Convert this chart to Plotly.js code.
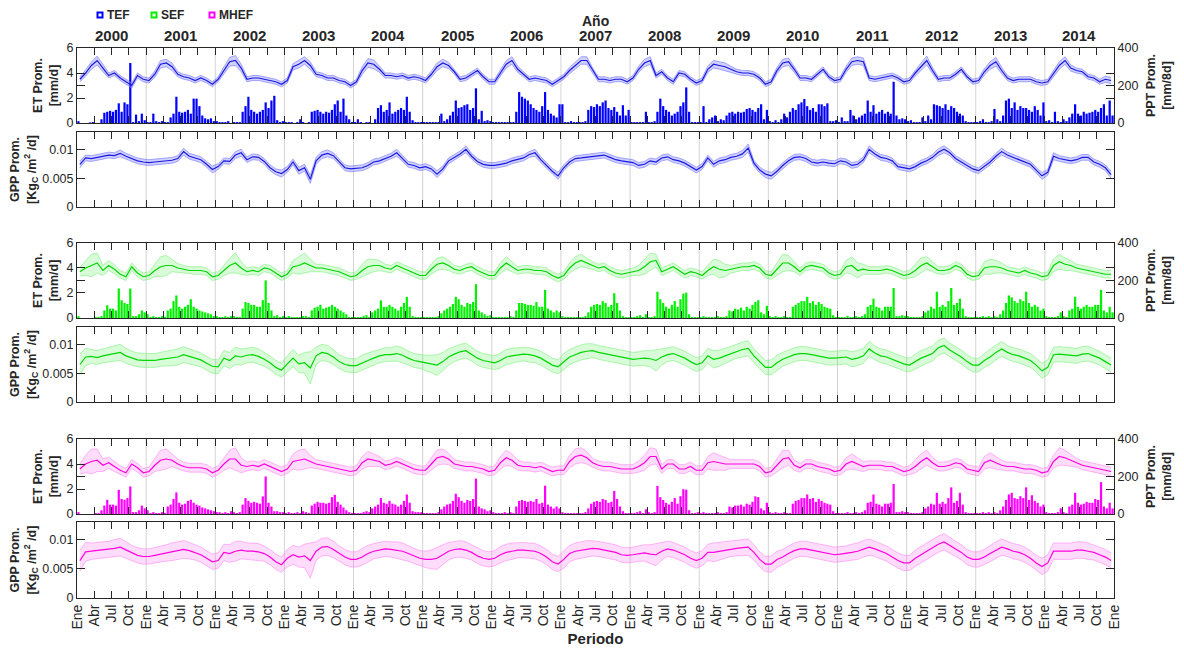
<!DOCTYPE html>
<html><head><meta charset="utf-8">
<script src="https://cdn.plot.ly/plotly-3.0.1.min.js"></script>
<style>html,body{margin:0;padding:0;background:#fff}#chart{width:1184px;height:650px}</style>
</head><body><div id="chart"></div>
<script>
const years = [2000,2001,2002,2003,2004,2005,2006,2007,2008,2009,2010,2011,2012,2013,2014];
const quarterLabels = ['Ene','Abr','Jul','Oct'];
const seriesNames = ['TEF','SEF','MHEF'];

// ET mean (mm/d), monthly
const etTEF = [
3.5,4.0,4.6,5.0,4.4,3.8,4.0,3.6,3.3,3.0,3.8,3.5,
3.4,3.9,4.7,4.8,4.5,3.9,3.7,3.6,3.4,3.6,3.4,3.1,
3.5,4.2,4.9,5.0,4.4,3.5,3.6,3.6,3.5,3.4,3.3,3.1,
3.4,4.5,4.7,5.0,4.6,3.9,3.8,3.6,3.6,3.4,3.3,3.0,
3.3,4.2,4.8,4.7,4.3,3.8,3.8,3.7,3.8,3.6,3.7,3.6,
3.4,3.9,4.5,4.8,4.6,4.1,3.5,3.6,3.9,4.2,3.7,3.3,
3.3,4.0,4.7,5.0,4.3,3.9,3.5,3.6,3.5,3.4,3.1,3.4,
3.7,4.2,4.6,5.0,5.0,4.2,3.5,3.5,3.4,3.5,3.5,3.3,
3.6,4.3,4.8,5.0,3.8,4.1,3.6,3.3,4.0,3.9,3.5,3.2,
3.4,4.3,4.7,4.6,4.5,4.3,4.1,4.0,4.0,3.9,3.6,3.1,
3.3,4.2,4.8,4.9,4.3,3.6,3.6,3.5,3.9,4.3,3.7,3.4,
3.5,4.3,4.9,5.0,4.9,3.6,3.5,3.6,3.7,3.8,3.6,3.3,
3.4,4.0,4.5,5.0,4.2,3.5,3.6,3.6,3.9,4.3,3.7,3.3,
3.4,4.1,4.6,4.9,4.2,3.6,3.4,3.5,3.5,3.5,3.3,3.2,
3.3,4.0,4.6,5.0,4.4,4.2,4.1,3.7,3.6,3.3,3.5,3.4];
const etTEFsd = [
.2,.25,.3,.35,.3,.2,.2,.2,.2,.2,.2,.2,
.2,.25,.3,.3,.3,.2,.2,.2,.2,.2,.2,.2,
.2,.3,.35,.4,.3,.2,.2,.2,.2,.2,.2,.2,
.2,.25,.3,.3,.3,.2,.2,.2,.2,.2,.2,.2,
.2,.3,.35,.35,.25,.2,.2,.2,.2,.2,.2,.2,
.2,.25,.3,.3,.25,.2,.2,.2,.2,.2,.2,.2,
.2,.25,.3,.3,.25,.2,.2,.2,.2,.2,.2,.2,
.2,.25,.3,.3,.3,.2,.2,.2,.2,.2,.2,.2,
.2,.25,.3,.3,.2,.2,.2,.2,.2,.2,.2,.2,
.2,.25,.3,.3,.3,.25,.2,.2,.2,.2,.2,.2,
.2,.25,.3,.3,.25,.2,.2,.2,.2,.2,.2,.2,
.2,.25,.3,.3,.3,.2,.2,.2,.2,.2,.2,.2,
.2,.25,.3,.35,.25,.2,.2,.2,.2,.2,.2,.2,
.2,.25,.3,.35,.25,.2,.2,.2,.2,.2,.2,.2,
.2,.25,.3,.3,.25,.2,.2,.2,.2,.2,.25,.25];
const etSEF = [
3.7,4.0,4.2,4.4,3.8,4.2,3.9,3.5,3.3,4.1,3.6,3.3,
3.4,3.8,4.1,4.2,4.2,4.0,3.9,3.8,3.8,3.8,3.7,3.3,
3.4,3.8,4.2,4.4,4.0,3.7,3.8,3.7,4.0,3.9,3.6,3.3,
3.5,4.1,4.2,4.4,4.2,4.0,4.0,3.9,3.8,3.7,3.5,3.3,
3.4,3.8,4.1,4.2,4.2,4.0,3.9,4.2,4.0,3.8,3.6,3.4,
3.4,3.9,4.3,4.4,4.2,3.9,3.8,4.0,4.1,3.8,3.6,3.4,
3.4,4.0,4.4,4.1,3.8,3.9,3.9,3.8,3.8,3.7,3.4,3.2,
3.4,4.0,4.4,4.6,4.4,4.2,4.0,4.1,3.8,3.6,3.5,3.6,
3.7,3.8,4.1,4.5,4.6,3.7,3.9,4.1,3.8,3.5,3.7,3.6,
3.4,3.8,4.1,3.9,3.8,3.9,4.0,4.1,4.1,4.2,4.0,3.5,
3.4,3.9,4.4,4.4,4.1,3.7,4.1,4.2,4.1,4.0,3.6,3.4,
3.5,4.1,4.2,3.8,3.9,3.8,3.8,3.8,3.9,3.8,3.6,3.4,
3.5,3.8,4.2,4.4,4.1,3.8,3.8,3.9,4.2,4.0,3.5,3.3,
3.4,4.0,4.1,4.1,4.0,3.8,3.7,3.6,3.8,3.6,3.5,3.3,
3.4,4.2,4.5,4.3,4.2,4.0,3.9,3.8,3.7,3.6,3.5,3.5];
const etSEFsd = [
.35,.6,.9,.8,.4,.4,.35,.3,.3,.3,.3,.3,
.3,.5,.8,.8,.5,.35,.3,.3,.3,.3,.3,.3,
.3,.4,.6,.8,.5,.3,.3,.3,.3,.3,.3,.3,
.3,.5,.7,.8,.5,.3,.3,.3,.3,.3,.3,.3,
.3,.5,.6,.5,.4,.3,.3,.3,.3,.3,.3,.3,
.3,.4,.5,.5,.4,.3,.3,.3,.3,.3,.3,.3,
.3,.4,.5,.4,.3,.3,.3,.3,.3,.3,.3,.3,
.3,.4,.5,.5,.4,.3,.3,.3,.3,.3,.3,.3,
.3,.4,.6,.7,.5,.3,.3,.3,.3,.3,.3,.3,
.3,.4,.6,.7,.5,.3,.3,.3,.3,.3,.3,.3,
.3,.5,.7,.6,.4,.3,.3,.3,.3,.3,.3,.3,
.3,.5,.7,.6,.4,.3,.3,.3,.3,.3,.3,.3,
.3,.5,.6,.5,.4,.3,.3,.3,.3,.3,.3,.3,
.3,.5,.6,.5,.4,.3,.3,.3,.3,.3,.3,.3,
.3,.5,.6,.5,.4,.3,.3,.3,.3,.3,.3,.3];
const etMHEF = [
3.6,4.0,4.2,4.3,3.9,4.1,3.8,3.5,3.3,4.0,3.7,3.3,
3.4,3.9,4.3,4.4,4.3,4.0,3.8,3.7,3.7,3.7,3.6,3.3,
3.5,4.0,4.4,4.4,3.9,3.8,3.9,3.8,4.0,3.8,3.6,3.4,
3.6,4.2,4.3,4.4,4.2,4.0,3.9,3.8,3.7,3.6,3.5,3.4,
3.5,4.1,4.4,4.3,4.2,3.9,4.0,4.2,4.0,3.8,3.6,3.5,
3.5,4.0,4.5,4.6,4.4,4.0,3.9,3.8,3.8,3.7,3.6,3.4,
3.5,4.1,4.5,4.3,3.9,3.8,3.8,3.7,3.8,3.6,3.4,3.5,
3.5,4.2,4.6,4.7,4.5,4.1,3.9,3.8,3.8,3.7,3.6,3.6,
3.6,3.8,4.1,4.6,4.6,3.6,4.0,4.0,3.6,3.6,3.8,3.5,
3.5,4.1,4.2,4.1,4.0,4.0,4.0,4.0,4.0,4.0,3.8,3.3,
3.4,3.9,4.4,4.5,3.9,3.7,4.0,4.0,3.8,3.7,3.6,3.4,
3.5,4.0,4.2,4.0,3.8,3.9,3.9,3.9,3.8,3.8,3.6,3.4,
3.5,3.8,4.2,4.5,4.1,3.8,3.8,3.9,4.1,4.0,3.6,3.5,
3.4,4.1,4.3,4.1,3.9,3.8,3.8,3.7,3.6,3.6,3.5,3.3,
3.4,4.2,4.6,4.5,4.3,4.1,3.9,3.8,3.7,3.6,3.5,3.4];
const etMHEFsd = [
.4,.7,1.0,.9,.5,.45,.4,.35,.35,.35,.35,.35,
.35,.5,.8,.8,.5,.4,.35,.35,.35,.35,.35,.35,
.35,.5,.7,.9,.6,.35,.35,.35,.35,.35,.35,.35,
.35,.6,.8,.8,.5,.35,.35,.35,.35,.35,.35,.35,
.35,.5,.6,.5,.4,.35,.35,.35,.35,.35,.35,.35,
.35,.5,.6,.6,.45,.35,.35,.35,.35,.35,.35,.35,
.35,.5,.6,.5,.4,.35,.35,.35,.35,.35,.35,.35,
.35,.5,.6,.6,.5,.35,.35,.35,.35,.35,.35,.35,
.35,.45,.6,.7,.6,.35,.35,.35,.35,.35,.35,.35,
.35,.5,.7,.6,.5,.35,.35,.35,.35,.35,.35,.35,
.35,.5,.7,.6,.4,.35,.35,.35,.35,.35,.35,.35,
.35,.5,.6,.5,.4,.35,.35,.35,.35,.35,.35,.35,
.35,.5,.6,.6,.45,.35,.35,.35,.35,.35,.35,.35,
.35,.5,.6,.5,.4,.35,.35,.35,.35,.35,.35,.35,
.35,.5,.7,.6,.45,.35,.35,.35,.35,.35,.35,.35];

// GPP mean (KgC/m2/d), monthly
const gppTEF = [
.0074,.0085,.0084,.0086,.0088,.0090,.0089,.0093,.0088,.0084,.0080,.0078,
.0077,.0078,.0079,.0080,.0081,.0084,.0096,.0088,.0085,.0082,.0074,.0065,
.0070,.0080,.0079,.0090,.0094,.0082,.0087,.0086,.0079,.0068,.0061,.0058,
.0065,.0078,.0063,.0068,.0048,.0080,.0090,.0093,.0089,.0078,.0068,.0066,
.0067,.0068,.0072,.0078,.0080,.0084,.0088,.0094,.0084,.0074,.0072,.0068,
.0070,.0066,.0057,.0066,.0080,.0086,.0092,.0100,.0088,.0079,.0074,.0072,
.0072,.0074,.0076,.0080,.0083,.0085,.0091,.0094,.0082,.0072,.0062,.0054,
.0068,.0078,.0084,.0085,.0086,.0088,.0088,.0090,.0086,.0082,.0080,.0078,
.0077,.0072,.0074,.0080,.0078,.0085,.0087,.0082,.0080,.0076,.0070,.0064,
.0070,.0085,.0074,.0080,.0082,.0086,.0088,.0092,.0102,.0076,.0064,.0057,
.0054,.0062,.0072,.0080,.0086,.0087,.0084,.0078,.0076,.0078,.0076,.0075,
.0080,.0078,.0072,.0074,.0082,.0100,.0092,.0086,.0084,.0080,.0070,.0068,
.0066,.0070,.0076,.0080,.0086,.0095,.0100,.0094,.0084,.0078,.0072,.0066,
.0063,.0070,.0078,.0088,.0096,.0090,.0086,.0082,.0078,.0074,.0064,.0054,
.0060,.0088,.0084,.0082,.0080,.0082,.0086,.0086,.0078,.0074,.0068,.0056];
const gppTEFsd = [
.0006,.0005,.0005,.0005,.0005,.0005,.0005,.0006,.0005,.0005,.0005,.0005,
.0005,.0005,.0005,.0005,.0005,.0005,.0006,.0005,.0005,.0005,.0005,.0006,
.0005,.0005,.0005,.0006,.0006,.0005,.0005,.0005,.0005,.0005,.0005,.0006,
.0005,.0005,.0006,.0006,.0007,.0006,.0006,.0006,.0005,.0005,.0005,.0005,
.0005,.0005,.0005,.0005,.0005,.0005,.0005,.0006,.0005,.0005,.0005,.0005,
.0005,.0005,.0006,.0005,.0005,.0005,.0005,.0006,.0005,.0005,.0005,.0005,
.0005,.0005,.0005,.0005,.0005,.0005,.0005,.0006,.0005,.0005,.0005,.0006,
.0005,.0005,.0005,.0005,.0005,.0005,.0005,.0005,.0005,.0005,.0005,.0005,
.0005,.0005,.0005,.0005,.0005,.0005,.0005,.0005,.0005,.0005,.0005,.0005,
.0005,.0005,.0005,.0005,.0005,.0005,.0005,.0006,.0007,.0005,.0005,.0006,
.0006,.0005,.0005,.0005,.0005,.0005,.0005,.0005,.0005,.0005,.0005,.0005,
.0005,.0005,.0005,.0005,.0005,.0006,.0005,.0005,.0005,.0005,.0005,.0005,
.0005,.0005,.0005,.0005,.0005,.0006,.0006,.0005,.0005,.0005,.0005,.0005,
.0005,.0005,.0005,.0005,.0006,.0005,.0005,.0005,.0005,.0005,.0005,.0006,
.0005,.0006,.0005,.0005,.0005,.0005,.0005,.0005,.0005,.0005,.0005,.0006];
const gppSEF = [
.0065,.0078,.0079,.0077,.0080,.0082,.0084,.0086,.0080,.0076,.0073,.0072,
.0072,.0072,.0074,.0075,.0077,.0078,.0082,.0079,.0076,.0073,.0067,.0062,
.0061,.0076,.0072,.0080,.0078,.0081,.0082,.0079,.0074,.0068,.0060,.0055,
.0066,.0076,.0066,.0068,.0059,.0080,.0086,.0084,.0078,.0070,.0065,.0063,
.0063,.0068,.0072,.0076,.0080,.0082,.0082,.0084,.0081,.0076,.0072,.0070,
.0068,.0066,.0064,.0070,.0078,.0083,.0087,.0089,.0083,.0076,.0072,.0070,
.0068,.0072,.0078,.0080,.0082,.0083,.0082,.0080,.0076,.0070,.0064,.0061,
.0070,.0078,.0082,.0086,.0088,.0089,.0086,.0084,.0082,.0080,.0078,.0076,
.0074,.0075,.0076,.0075,.0072,.0078,.0082,.0084,.0080,.0076,.0070,.0065,
.0068,.0080,.0074,.0076,.0080,.0084,.0088,.0091,.0093,.0080,.0070,.0060,
.0060,.0068,.0074,.0078,.0082,.0084,.0084,.0082,.0080,.0078,.0076,.0076,
.0077,.0078,.0074,.0076,.0080,.0092,.0085,.0080,.0078,.0074,.0070,.0066,
.0064,.0070,.0076,.0080,.0084,.0094,.0098,.0090,.0084,.0078,.0070,.0064,
.0064,.0072,.0078,.0086,.0092,.0086,.0082,.0080,.0076,.0072,.0064,.0054,
.0060,.0082,.0083,.0082,.0080,.0080,.0083,.0084,.0080,.0076,.0070,.0064];
const gppSEFsd = [
.0018,.0015,.0012,.0012,.0012,.0013,.0014,.0014,.0013,.0012,.0012,.0012,
.0012,.0012,.0012,.0013,.0014,.0014,.0014,.0013,.0012,.0012,.0012,.0012,
.0012,.0013,.0014,.0015,.0014,.0013,.0013,.0013,.0012,.0012,.0012,.0012,
.0014,.0015,.0015,.0018,.0028,.0015,.0014,.0014,.0013,.0012,.0012,.0012,
.0012,.0013,.0013,.0012,.0012,.0012,.0012,.0013,.0013,.0012,.0012,.0012,
.0013,.0015,.0018,.0016,.0014,.0013,.0013,.0013,.0012,.0012,.0012,.0012,
.0012,.0013,.0013,.0013,.0012,.0012,.0012,.0012,.0012,.0012,.0012,.0012,
.0014,.0013,.0013,.0013,.0013,.0012,.0012,.0012,.0012,.0012,.0012,.0012,
.0012,.0012,.0013,.0014,.0018,.0014,.0012,.0012,.0012,.0012,.0012,.0012,
.0012,.0013,.0015,.0014,.0013,.0012,.0012,.0013,.0013,.0012,.0012,.0012,
.0013,.0013,.0012,.0012,.0012,.0012,.0012,.0012,.0012,.0012,.0012,.0012,
.0012,.0012,.0013,.0013,.0013,.0013,.0012,.0012,.0012,.0012,.0012,.0012,
.0012,.0013,.0013,.0013,.0013,.0013,.0013,.0012,.0012,.0012,.0012,.0012,
.0012,.0012,.0013,.0013,.0013,.0012,.0012,.0012,.0012,.0012,.0012,.0013,
.0013,.0013,.0013,.0013,.0013,.0013,.0013,.0013,.0012,.0012,.0012,.0012];
const gppMHEF = [
.0064,.0079,.0080,.0081,.0082,.0083,.0085,.0087,.0082,.0077,.0073,.0071,
.0071,.0073,.0075,.0077,.0079,.0081,.0083,.0081,.0078,.0074,.0068,.0062,
.0064,.0078,.0076,.0080,.0082,.0080,.0080,.0079,.0076,.0070,.0062,.0057,
.0068,.0074,.0070,.0072,.0064,.0080,.0087,.0088,.0083,.0076,.0070,.0066,
.0066,.0070,.0076,.0080,.0082,.0084,.0083,.0082,.0080,.0076,.0072,.0068,
.0066,.0066,.0068,.0074,.0080,.0083,.0084,.0082,.0078,.0072,.0068,.0066,
.0068,.0074,.0078,.0080,.0082,.0082,.0081,.0080,.0076,.0070,.0062,.0058,
.0066,.0076,.0080,.0082,.0084,.0085,.0084,.0082,.0080,.0078,.0074,.0073,
.0074,.0076,.0077,.0075,.0074,.0080,.0084,.0082,.0078,.0074,.0068,.0064,
.0068,.0078,.0078,.0080,.0082,.0084,.0085,.0086,.0087,.0078,.0066,.0058,
.0058,.0066,.0070,.0076,.0081,.0084,.0084,.0082,.0080,.0078,.0076,.0074,
.0075,.0076,.0078,.0080,.0084,.0087,.0084,.0080,.0076,.0070,.0064,.0060,
.0060,.0068,.0074,.0080,.0086,.0092,.0096,.0090,.0084,.0078,.0070,.0066,
.0066,.0070,.0076,.0082,.0087,.0084,.0080,.0078,.0074,.0068,.0060,.0054,
.0060,.0080,.0080,.0080,.0080,.0082,.0082,.0080,.0078,.0074,.0070,.0064];
const gppMHEFsd = [
.0018,.0016,.0014,.0014,.0014,.0014,.0015,.0015,.0014,.0013,.0013,.0013,
.0013,.0013,.0013,.0014,.0015,.0015,.0015,.0014,.0013,.0013,.0013,.0013,
.0013,.0014,.0015,.0017,.0015,.0014,.0014,.0014,.0013,.0013,.0013,.0013,
.0015,.0016,.0017,.0020,.0030,.0016,.0015,.0015,.0014,.0013,.0013,.0013,
.0013,.0014,.0014,.0013,.0013,.0013,.0013,.0014,.0014,.0013,.0013,.0013,
.0014,.0016,.0019,.0017,.0015,.0014,.0014,.0014,.0013,.0013,.0013,.0013,
.0013,.0014,.0014,.0014,.0013,.0013,.0013,.0013,.0013,.0013,.0013,.0013,
.0015,.0014,.0014,.0014,.0014,.0013,.0013,.0013,.0013,.0013,.0013,.0013,
.0013,.0013,.0014,.0016,.0019,.0015,.0013,.0013,.0013,.0013,.0013,.0013,
.0013,.0014,.0016,.0015,.0014,.0013,.0013,.0014,.0014,.0013,.0013,.0013,
.0014,.0014,.0013,.0013,.0013,.0013,.0013,.0013,.0013,.0013,.0013,.0013,
.0013,.0013,.0014,.0014,.0014,.0014,.0013,.0013,.0013,.0013,.0013,.0013,
.0013,.0014,.0014,.0014,.0014,.0014,.0014,.0013,.0013,.0013,.0013,.0013,
.0013,.0013,.0014,.0014,.0014,.0013,.0013,.0013,.0013,.0013,.0013,.0014,
.0014,.0014,.0014,.0014,.0014,.0014,.0014,.0014,.0013,.0013,.0013,.0013];

// PPT (mm/8d), twice-monthly
const pptTEF = [
10,0,0,0,3,5,0,0,20,55,60,65,60,70,105,60,110,100,320,5,45,10,50,15,
5,5,50,10,5,10,5,5,30,50,140,60,55,60,70,50,130,130,90,40,25,20,25,10,
10,5,5,5,10,0,5,5,5,60,90,140,70,60,50,60,70,110,80,120,145,15,5,10,
5,5,5,0,5,20,5,0,5,60,65,70,60,50,60,55,70,100,120,60,130,40,20,5,
5,20,5,0,5,5,0,20,80,95,60,70,110,50,60,70,80,70,140,60,15,5,5,5,
5,5,5,5,5,5,50,10,20,40,60,120,80,85,95,100,70,80,185,20,65,10,15,10,
5,5,5,5,5,5,5,5,60,165,140,130,120,100,80,70,60,90,165,70,50,40,30,100,
100,5,5,10,5,5,5,5,10,70,90,85,100,90,110,120,80,70,85,60,40,95,40,70,
5,5,5,5,5,60,5,5,10,60,130,90,70,60,40,50,60,90,110,190,60,5,5,5,
5,90,5,20,30,40,10,20,15,40,55,60,50,60,55,60,75,80,70,60,80,100,20,70,
10,5,15,5,20,50,30,60,80,70,100,110,128,90,70,80,60,100,100,90,105,10,10,15,
5,30,10,10,70,40,20,30,40,50,120,60,95,50,60,70,50,60,50,220,40,20,25,20,
10,15,5,5,5,30,10,40,20,100,95,90,80,100,70,90,80,60,50,40,10,5,5,5,
5,10,20,5,5,10,75,20,10,40,120,130,80,110,70,90,80,80,70,60,90,70,40,110,
10,15,5,60,10,5,20,10,30,50,100,50,40,60,50,55,60,70,60,80,100,40,120,40];
const pptSEF = [
10,0,0,0,0,0,5,5,10,40,68,50,50,40,157,95,80,75,157,10,10,20,40,30,
20,5,10,5,5,10,5,40,50,90,120,60,50,60,70,100,60,50,40,35,30,25,20,10,
10,5,5,10,5,10,10,5,5,50,85,80,70,70,60,60,95,200,80,40,10,15,5,10,
5,10,5,5,5,5,10,10,5,40,55,60,70,50,55,60,70,60,50,40,30,20,5,5,
5,5,5,10,15,5,30,40,50,94,60,60,70,60,50,40,60,80,113,60,10,5,5,5,
5,5,5,5,5,10,25,40,50,60,75,113,100,70,60,80,75,85,180,40,30,20,10,15,
5,5,5,5,5,5,10,5,40,80,80,75,70,70,65,85,60,60,150,50,40,30,40,30,
10,5,5,5,5,5,5,5,10,30,60,70,75,70,90,80,60,70,132,80,40,10,5,5,
5,5,10,15,5,20,5,5,10,140,100,80,60,50,70,90,60,100,130,135,20,5,5,5,
5,10,5,5,5,5,10,5,5,10,40,35,50,45,55,40,60,50,70,85,95,30,20,65,
10,5,10,5,5,10,5,5,60,70,80,90,90,113,80,90,70,85,75,60,55,50,15,5,
5,5,5,10,5,5,10,5,10,20,60,70,103,60,55,40,60,60,60,160,10,10,15,10,
10,5,5,5,5,10,30,40,60,50,140,60,70,60,90,160,70,80,103,50,10,5,5,5,
5,5,10,5,10,5,10,5,20,40,80,120,110,90,80,100,90,140,80,60,70,60,40,50,
10,5,5,5,10,30,10,5,40,50,113,60,50,60,70,60,60,70,70,150,40,30,60,30];
const pptMHEF = [
10,0,0,0,0,0,5,5,20,45,76,50,50,45,129,80,76,85,147,10,10,20,45,30,
20,5,10,5,5,10,5,40,50,80,115,60,50,55,70,76,60,50,45,35,30,25,20,15,
10,10,5,10,5,15,10,5,10,50,85,70,60,65,60,55,94,200,60,40,15,15,10,10,
5,10,5,5,10,5,15,10,5,45,55,65,60,60,55,60,90,102,65,50,35,20,10,5,
5,5,5,10,15,10,30,40,50,85,60,55,70,55,50,40,50,70,104,60,15,10,10,10,
5,5,5,5,5,10,25,40,50,55,70,108,90,70,60,75,70,80,189,40,30,25,15,20,
10,5,5,5,10,5,10,5,40,70,75,70,65,70,65,80,55,60,151,50,40,30,40,30,
10,5,5,5,5,5,5,5,10,30,55,65,70,65,80,75,60,65,123,80,40,15,5,5,
5,5,10,15,5,25,10,5,10,150,90,75,60,50,65,85,55,95,132,130,20,5,5,10,
5,10,5,5,5,5,10,5,5,10,40,35,45,45,50,40,55,50,65,94,90,30,20,60,
10,5,10,5,5,10,5,5,55,70,75,85,85,104,80,85,65,80,70,60,55,50,15,5,
5,5,5,10,5,5,10,5,10,20,60,65,104,55,50,40,55,55,60,160,10,10,15,10,
10,5,5,5,5,10,30,40,55,50,113,55,65,55,85,142,60,70,113,50,10,5,5,5,
5,5,10,5,10,5,10,5,20,40,75,104,113,85,80,95,85,142,75,100,70,60,40,50,
10,5,5,5,10,30,10,5,40,50,113,60,50,55,65,60,60,80,75,170,40,30,60,30];

// ---------- build ----------
const xMonth = [], xHalf = [];
years.forEach(y => {
  for (let m = 0; m < 12; m++) xMonth.push(y + (m + 0.5) / 12);
  for (let h = 0; h < 24; h++) xHalf.push(y + (h + 0.5) / 24);
});
const tickvals = [], ticktext = [];
years.forEach(y => quarterLabels.forEach((q, i) => { tickvals.push(y + i * 0.25); ticktext.push(q); }));
tickvals.push(years[years.length - 1] + 1); ticktext.push(quarterLabels[0]);

const styles = [
  {line: 'rgb(25,25,225)', edge: 'rgba(120,120,255,0.9)', fill: 'rgba(120,120,255,0.35)', bar: '#0000ff'},
  {line: 'rgb(0,215,0)', edge: 'rgba(130,240,130,0.9)', fill: 'rgba(60,235,60,0.2)', bar: '#00f000'},
  {line: 'rgb(255,0,225)', edge: 'rgba(255,140,240,0.9)', fill: 'rgba(255,80,235,0.2)', bar: '#ff00ff'}
];
const etData = [[etTEF, etTEFsd], [etSEF, etSEFsd], [etMHEF, etMHEFsd]];
const gppData = [[gppTEF, gppTEFsd], [gppSEF, gppSEFsd], [gppMHEF, gppMHEFsd]];
const pptData = [pptTEF, pptSEF, pptMHEF];

function bandTraces(mean, sd, xa, ya, st) {
  const lo = mean.map((v, i) => v - sd[i]);
  const hi = mean.map((v, i) => v + sd[i]);
  return [
    {x: xMonth, y: lo, xaxis: xa, yaxis: ya, type: 'scatter', mode: 'lines', line: {color: st.edge, width: 0.7}, hoverinfo: 'skip', showlegend: false},
    {x: xMonth, y: hi, xaxis: xa, yaxis: ya, type: 'scatter', mode: 'lines', line: {color: st.edge, width: 0.7}, fill: 'tonexty', fillcolor: st.fill, hoverinfo: 'skip', showlegend: false},
    {x: xMonth, y: mean, xaxis: xa, yaxis: ya, type: 'scatter', mode: 'lines', line: {color: st.line, width: 1.2}, showlegend: false}
  ];
}

const font = 'Liberation Sans, Arial, Helvetica, sans-serif';
const axCol = '#262626';
const panels = [
  {et: 0, xa: 'x',  xk: 'xaxis',  base: 'y',  baseK: 'yaxis',  over: 'y2', overK: 'yaxis2', dom: [0.8636, 1.0]},
  {gpp: 0, xa: 'x2', xk: 'xaxis2', ya: 'y3', yk: 'yaxis3', dom: [0.7109, 0.8473]},
  {et: 1, xa: 'x3', xk: 'xaxis3', base: 'y4', baseK: 'yaxis4', over: 'y5', overK: 'yaxis5', dom: [0.5091, 0.6455]},
  {gpp: 1, xa: 'x4', xk: 'xaxis4', ya: 'y6', yk: 'yaxis6', dom: [0.3564, 0.4927]},
  {et: 2, xa: 'x5', xk: 'xaxis5', base: 'y7', baseK: 'yaxis7', over: 'y8', overK: 'yaxis8', dom: [0.1527, 0.2891]},
  {gpp: 2, xa: 'x6', xk: 'xaxis6', ya: 'y9', yk: 'yaxis9', dom: [0, 0.1382]}
];

const traces = [];
const layout = {
  width: 1184, height: 650,
  margin: {l: 77, r: 70, t: 48, b: 52},
  paper_bgcolor: '#fff', plot_bgcolor: 'rgba(0,0,0,0)',
  font: {family: font, color: axCol, size: 12},
  showlegend: false,
  shapes: [], annotations: []
};
const common = {showline: true, linecolor: axCol, linewidth: 1, mirror: 'ticks', ticks: 'inside', tickcolor: axCol,
  showgrid: false, zeroline: false, automargin: false, fixedrange: true};

panels.forEach((p, pi) => {
  const last = pi === panels.length - 1;
  const anchorY = p.base || p.ya;
  layout[p.xk] = Object.assign({}, common, {
    range: [years[0], years[years.length - 1] + 1], tickvals, ticktext, ticklen: 7,
    anchor: anchorY, showticklabels: last, tickangle: -90, tickfont: {size: 14, color: axCol}
  });
  if (last) layout[p.xk].title = {text: '<b>Periodo</b>', font: {size: 15, color: axCol}, standoff: 4};
  if (p.et !== undefined) {
    const st = styles[p.et];
    traces.push({x: xHalf, y: pptData[p.et], xaxis: p.xa, yaxis: p.base, type: 'bar', width: 0.032,
      marker: {color: st.bar, line: {width: 0}}, showlegend: false});
    bandTraces(etData[p.et][0], etData[p.et][1], p.xa, p.over, st).forEach(t => traces.push(t));
    layout[p.baseK] = Object.assign({}, common, {
      domain: p.dom, anchor: p.xa, side: 'right', range: [0, 400], tickvals: [0, 200, 400], ticklen: 8,
      tickfont: {size: 12.5, color: axCol},
      title: {text: '<b>PPT Prom.<br>[mm/8d]</b>', font: {size: 12.5, color: axCol}}
    });
    layout[p.overK] = Object.assign({}, common, {
      overlaying: p.base, anchor: p.xa, side: 'left', range: [0, 6], tickvals: [0, 2, 4, 6], ticklen: 8,
      tickfont: {size: 12.5, color: axCol},
      title: {text: '<b>ET Prom.<br>[mm/d]</b>', font: {size: 12.5, color: axCol}}
    });
  } else {
    const st = styles[p.gpp];
    bandTraces(gppData[p.gpp][0], gppData[p.gpp][1], p.xa, p.ya, st).forEach(t => traces.push(t));
    layout[p.yk] = Object.assign({}, common, {
      domain: p.dom, anchor: p.xa, side: 'left', range: [0, 0.013], tickvals: [0, 0.005, 0.01],
      ticktext: ['0', '0.005', '0.01'], ticklen: 8, tickfont: {size: 12.5, color: axCol},
      title: {text: '<b>GPP Prom.<br>[Kg<sub>C</sub> /m<sup>2</sup> /d]</b>', font: {size: 12.5, color: axCol}}
    });
  }
  // faint year separators
  years.slice(1).forEach(y => layout.shapes.push({type: 'line', xref: p.xa, yref: anchorY + ' domain',
    x0: y, x1: y, y0: 0, y1: 1, line: {color: 'rgba(200,200,200,0.8)', width: 1}, layer: 'below'}));
});

// year labels and "Año"
years.forEach(y => layout.annotations.push({x: y + 0.5, y: 1.0236, xref: 'x', yref: 'paper', showarrow: false,
  text: '<b>' + y + '</b>', font: {size: 15, color: axCol}, xanchor: 'center', yanchor: 'middle'}));
layout.annotations.push({x: 2007.5, y: 1.049, xref: 'x', yref: 'paper', showarrow: false,
  text: '<b>Año</b>', font: {size: 14, color: axCol}, xanchor: 'center', yanchor: 'middle'});

// legend (squares + labels)
const legendPx = [100, 154, 212];
seriesNames.forEach((n, i) => {
  const cx = (legendPx[i] - 77) / 1037, cy = (598 - 15) / 550;
  layout.shapes.push({type: 'rect', xref: 'paper', yref: 'paper', x0: cx - 2.5 / 1037, x1: cx + 2.5 / 1037,
    y0: cy - 2.5 / 550, y1: cy + 2.5 / 550, line: {color: styles[i].bar, width: 2}, fillcolor: 'rgba(0,0,0,0)'});
  layout.annotations.push({x: cx + 5 / 1037, y: cy, xref: 'paper', yref: 'paper', showarrow: false,
    text: '<b>' + n + '</b>', font: {size: 12, color: axCol}, xanchor: 'left', yanchor: 'middle'});
});

Plotly.newPlot('chart', traces, layout, {displayModeBar: false, staticPlot: true});
</script>
</body></html>
